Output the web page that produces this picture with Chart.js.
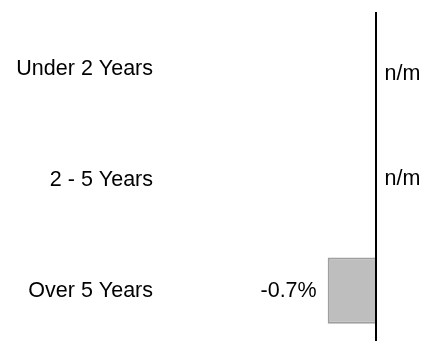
<!DOCTYPE html>
<html>
<head>
<meta charset="utf-8">
<script src="https://cdn.jsdelivr.net/npm/chart.js@4/dist/chart.umd.min.js"></script>
<style>
  html, body { margin: 0; padding: 0; background: #fff; overflow: hidden; }
  #wrap { position: relative; width: 422px; height: 346px; }
</style>
</head>
<body>
<div id="wrap"><canvas id="c"></canvas></div>
<script>
// Maturity buckets and their change in percent (null = not meaningful)
const categories = ['Under 2 Years', '2 - 5 Years', 'Over 5 Years'];
const changeValues = [null, null, -0.7];
const missingLabel = 'n/m';

const FONT = '"Liberation Sans", Arial, sans-serif';
const FONT_SIZE = 21.5;

// Vertical zero line drawn across the plot
const zeroLine = {
  id: 'zeroLine',
  afterDatasetsDraw(chart) {
    const { ctx, chartArea, scales } = chart;
    const x = Math.round(scales.x.getPixelForValue(0));
    ctx.save();
    ctx.strokeStyle = '#000';
    ctx.lineWidth = 2;
    ctx.beginPath();
    ctx.moveTo(x, chartArea.top - 2);
    ctx.lineTo(x, chartArea.bottom - 5);
    ctx.stroke();
    ctx.restore();
  }
};

// Value labels: percentage left of a bar, "n/m" right of the axis when missing
const valueLabels = {
  id: 'valueLabels',
  afterDatasetsDraw(chart) {
    const { ctx, scales } = chart;
    const meta = chart.getDatasetMeta(0);
    const zeroX = scales.x.getPixelForValue(0);
    const nudge = [5, -1, 0];
    ctx.save();
    ctx.font = FONT_SIZE + 'px ' + FONT;
    ctx.fillStyle = '#000';
    ctx.textBaseline = 'middle';
    changeValues.forEach((v, i) => {
      const y = scales.y.getPixelForValue(i) + nudge[i];
      if (v === null) {
        ctx.textAlign = 'left';
        ctx.fillText(missingLabel, zeroX + 9, y);
      } else {
        const bar = meta.data[i];
        const txt = v.toFixed(1) + '%';
        if (v < 0) {
          ctx.textAlign = 'right';
          ctx.fillText(txt, bar.x - 11, y);
        } else {
          ctx.textAlign = 'left';
          ctx.fillText(txt, bar.x + 11, y);
        }
      }
    });
    ctx.restore();
  }
};

new Chart(document.getElementById('c'), {
  type: 'bar',
  data: {
    labels: categories,
    datasets: [{
      data: changeValues,
      backgroundColor: '#bebebe',
      borderColor: '#9f9f9f',
      borderWidth: 2,
      barPercentage: 0.6,
      categoryPercentage: 1.0
    }]
  },
  options: {
    indexAxis: 'y',
    responsive: true,
    maintainAspectRatio: false,
    animation: false,
    events: [],
    layout: { padding: { top: 14, right: 0, bottom: 0, left: 0 } },
    plugins: {
      legend: { display: false },
      tooltip: { enabled: false }
    },
    scales: {
      x: {
        display: false,
        min: -3.08,
        max: 0.68
      },
      y: {
        type: 'category',
        grid: { display: false, drawTicks: false },
        border: { display: false },
        ticks: {
          color: '#000',
          padding: 12,
          font: { family: FONT, size: FONT_SIZE }
        },
        afterFit(scale) {
          scale.width = 165;
          scale.paddingTop = 0;
          scale.paddingBottom = 0;
        }
      }
    }
  },
  plugins: [zeroLine, valueLabels]
});
</script>
</body>
</html>
